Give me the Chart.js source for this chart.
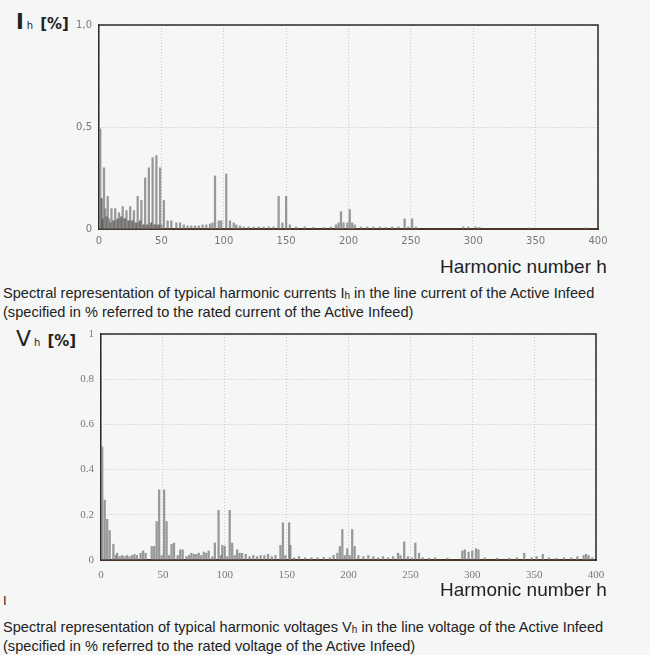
<!DOCTYPE html>
<html lang="en">
  <head>
    <meta charset="UTF-8" />
    <title>Harmonic spectrum - Active Infeed</title>
    <style>
      body { margin: 0; background: #f5f6f6; width: 650px; height: 655px; position: relative; overflow: hidden; font-family: "Liberation Sans", Arial, sans-serif; color: #222; }
      .box { position: absolute; }
      .ylab { position: absolute; font-family: "DejaVu Sans", sans-serif; color: #222; white-space: nowrap; }
      .ylab .big { font-size: 21px; font-weight: bold; }
      .ylab sub { font-size: 10px; font-weight: normal; vertical-align: baseline; margin: 0 7px 0 3px; }
      .ylab .unit { font-size: 15px; font-weight: bold; }
      .xtitle { position: absolute; font-size: 19px; white-space: nowrap; }
      .cap { position: absolute; left: 3px; font-size: 14.6px; line-height: 17px; white-space: nowrap; }
      .cap sub { font-size: 10px; vertical-align: -1px; }
    </style>
  </head>
  <body>
    <div class="ylab" style="left:16px; top:10px;"><span class="big">I</span><sub>h</sub><span class="unit">[%]</span></div>
    <div class="box" style="left:55px; top:0px; width:560px; height:250px;">
      <canvas id="currentChart"></canvas>
    </div>
    <div class="xtitle" style="left:440px; top:256px;">Harmonic number h</div>
    <div class="cap" style="top:285px;">
      Spectral representation of typical harmonic currents I<sub>h</sub> in the line current of the Active Infeed<br />
      (specified in % referred to the rated current of the Active Infeed)
    </div>

    <div class="ylab" style="left:16px; top:326px;"><span class="big" style="font-weight:normal;font-size:22px;">V</span><sub>h</sub><span class="unit">[%]</span></div>
    <div class="box" style="left:55px; top:320px; width:560px; height:270px;">
      <canvas id="voltageChart"></canvas>
    </div>
    <div class="xtitle" style="left:440px; top:579px;">Harmonic number h</div>
    <div class="cap" style="top:592px; font-size:13px;">I</div>
    <div class="cap" style="top:619px;">
      Spectral representation of typical harmonic voltages V<sub>h</sub> in the line voltage of the Active Infeed<br />
      (specified in % referred to the rated voltage of the Active Infeed)
    </div>

    <script src="https://cdn.jsdelivr.net/npm/chart.js"></script>
    <script>
      // Harmonic currents I_h [%]
      const ihHarmonics = [1, 4, 5, 7, 8, 10, 11, 13, 14, 16, 17, 19, 20, 22, 23, 25, 26, 28, 29, 31, 32, 34, 35, 37, 38, 40, 41, 43, 44, 46, 47, 49, 50, 52, 55, 58, 62, 65, 68, 71, 74, 77, 80, 83, 86, 89, 91, 93, 96, 98, 102, 105, 108, 110, 113, 116, 120, 124, 128, 132, 136, 140, 144, 147, 150, 153, 158, 165, 172, 180, 186, 190, 192, 194, 196, 199, 201, 203, 205, 210, 215, 220, 225, 230, 235, 240, 245, 248, 251, 254, 292, 296, 302, 305, 345, 390];
      const ihValues = [0.49, 0.30, 0.10, 0.16, 0.05, 0.10, 0.04, 0.10, 0.04, 0.08, 0.05, 0.11, 0.05, 0.09, 0.04, 0.11, 0.04, 0.09, 0.03, 0.16, 0.03, 0.14, 0.02, 0.25, 0.02, 0.30, 0.02, 0.35, 0.02, 0.36, 0.02, 0.30, 0.02, 0.14, 0.04, 0.04, 0.03, 0.03, 0.02, 0.015, 0.015, 0.015, 0.015, 0.02, 0.02, 0.025, 0.03, 0.26, 0.04, 0.04, 0.27, 0.04, 0.03, 0.02, 0.015, 0.01, 0.01, 0.01, 0.01, 0.01, 0.01, 0.01, 0.16, 0.03, 0.16, 0.02, 0.01, 0.01, 0.008, 0.008, 0.01, 0.02, 0.03, 0.085, 0.03, 0.03, 0.095, 0.03, 0.02, 0.01, 0.01, 0.01, 0.01, 0.008, 0.01, 0.01, 0.05, 0.01, 0.05, 0.01, 0.01, 0.01, 0.01, 0.008, 0.005, 0.005];
      // darker low components under the current spectrum
      const ihLowHarmonics = [2, 3, 6, 9, 12, 15, 18, 21, 24, 27, 30, 33, 36, 39, 42, 45, 48];
      const ihLowValues = [0.15, 0.05, 0.06, 0.03, 0.04, 0.05, 0.06, 0.05, 0.04, 0.04, 0.03, 0.04, 0.02, 0.02, 0.03, 0.02, 0.02];
      const ihTicksY = [0, 0.5, 1];

      // Harmonic voltages V_h [%]
      const vhHarmonics = [1, 3, 5, 7, 10, 12, 13, 15, 17, 19, 21, 23, 25, 27, 29, 32, 34, 36, 41, 43, 45, 47, 49, 51, 53, 55, 57, 59, 62, 64, 66, 69, 71, 73, 75, 77, 79, 81, 83, 85, 87, 90, 92, 95, 97, 98, 100, 102, 104, 106, 108, 110, 112, 114, 117, 120, 123, 126, 129, 132, 135, 138, 141, 145, 147, 149, 152, 153, 156, 160, 165, 170, 175, 180, 185, 188, 191, 193, 195, 197, 199, 201, 203, 205, 208, 212, 216, 220, 224, 228, 232, 236, 240, 242, 245, 248, 251, 254, 257, 260, 265, 270, 280, 292, 294, 297, 300, 303, 305, 310, 320, 330, 336, 342, 348, 352, 357, 362, 368, 374, 380, 385, 390, 392, 394, 397];
      const vhValues = [0.50, 0.265, 0.18, 0.13, 0.07, 0.02, 0.03, 0.015, 0.02, 0.015, 0.02, 0.015, 0.02, 0.025, 0.02, 0.03, 0.04, 0.03, 0.06, 0.06, 0.17, 0.31, 0.02, 0.31, 0.17, 0.02, 0.07, 0.075, 0.02, 0.045, 0.045, 0.015, 0.02, 0.03, 0.025, 0.025, 0.03, 0.02, 0.035, 0.03, 0.04, 0.015, 0.075, 0.22, 0.02, 0.065, 0.06, 0.015, 0.22, 0.075, 0.02, 0.045, 0.03, 0.03, 0.025, 0.015, 0.02, 0.015, 0.02, 0.02, 0.025, 0.015, 0.02, 0.065, 0.165, 0.02, 0.165, 0.065, 0.01, 0.015, 0.01, 0.01, 0.01, 0.012, 0.01, 0.02, 0.03, 0.06, 0.135, 0.02, 0.05, 0.02, 0.135, 0.06, 0.02, 0.015, 0.02, 0.015, 0.01, 0.015, 0.01, 0.015, 0.03, 0.02, 0.08, 0.015, 0.01, 0.075, 0.03, 0.01, 0.008, 0.01, 0.008, 0.04, 0.045, 0.035, 0.04, 0.05, 0.045, 0.01, 0.008, 0.008, 0.01, 0.03, 0.01, 0.015, 0.025, 0.01, 0.008, 0.01, 0.01, 0.015, 0.02, 0.025, 0.02, 0.01];
      const vhTicksY = [0, 0.2, 0.4, 0.6, 0.8, 1];

      const xTicks = [0, 50, 100, 150, 200, 250, 300, 350, 400];

      function toPoints(xs, ys) {
        return xs.map((h, i) => ({ x: h, y: ys[i] }));
      }

      // draws the top and right edge of the plot frame
      const framePlugin = {
        id: 'frame',
        afterDatasetsDraw(chart) {
          const a = chart.chartArea;
          const ctx = chart.ctx;
          ctx.save();
          ctx.strokeStyle = '#2a2a2a';
          ctx.lineWidth = 1.5;
          ctx.beginPath();
          ctx.moveTo(a.left, a.top);
          ctx.lineTo(a.right, a.top);
          ctx.lineTo(a.right, a.bottom);
          ctx.stroke();
          ctx.restore();
        }
      };

      function makeChart(id, cfg) {
        const ctx = document.getElementById(id).getContext('2d');
        return new Chart(ctx, {
          type: 'bar',
          data: { datasets: cfg.datasets },
          options: {
            responsive: true,
            maintainAspectRatio: false,
            animation: false,
            layout: { padding: cfg.padding },
            plugins: { legend: { display: false }, tooltip: { enabled: false } },
            scales: {
              x: {
                type: 'linear',
                min: 0,
                max: 400,
                offset: false,
                afterBuildTicks: s => { s.ticks = xTicks.map(v => ({ value: v })); },
                afterFit: s => { s.height = cfg.xHeight; },
                ticks: { color: '#777', font: cfg.tickFont, padding: cfg.xPad, maxRotation: 0 },
                grid: { color: '#c4c8c8', drawTicks: false, offset: false },
                border: { color: '#4b3428', width: 2, dash: [1, 2] }
              },
              y: {
                min: 0,
                max: 1,
                afterBuildTicks: s => { s.ticks = cfg.yTicks.map(v => ({ value: v })); },
                afterFit: s => { s.width = cfg.yWidth; },
                ticks: { color: '#777', font: cfg.tickFont, padding: cfg.yPad, callback: cfg.yFormat },
                grid: { color: '#c4c8c8', drawTicks: false },
                border: { color: '#2a2a2a', width: 1.5, dash: [1, 2] }
              }
            }
          },
          plugins: [framePlugin]
        });
      }

      makeChart('currentChart', {
        datasets: [
          {
            data: toPoints(ihHarmonics, ihValues),
            backgroundColor: 'rgba(120,120,120,0.75)',
            barThickness: 1.6,
            grouped: false
          },
          {
            data: toPoints(ihLowHarmonics, ihLowValues),
            backgroundColor: 'rgba(70,70,70,0.8)',
            barThickness: 1.6,
            grouped: false
          }
        ],
        padding: { top: 25, right: 17, left: 0, bottom: 0 },
        xHeight: 21,
        xPad: 6,
        yWidth: 44,
        yPad: 7,
        yTicks: ihTicksY,
        tickFont: { family: 'DejaVu Sans', size: 10 },
        yFormat: v => (v === 0 ? '0' : v.toFixed(1).replace('.', ','))
      });

      makeChart('voltageChart', {
        datasets: [
          {
            data: toPoints(vhHarmonics, vhValues),
            backgroundColor: 'rgba(120,120,120,0.75)',
            barThickness: 1.6,
            grouped: false
          }
        ],
        padding: { top: 14, right: 19, left: 0, bottom: 0 },
        xHeight: 30,
        xPad: 9,
        yWidth: 46,
        yPad: 7,
        yTicks: vhTicksY,
        tickFont: { family: 'Liberation Serif', size: 11 },
        yFormat: v => (v === 0 || v === 1 ? String(v) : v.toFixed(1))
      });
    </script>
  </body>
</html>
